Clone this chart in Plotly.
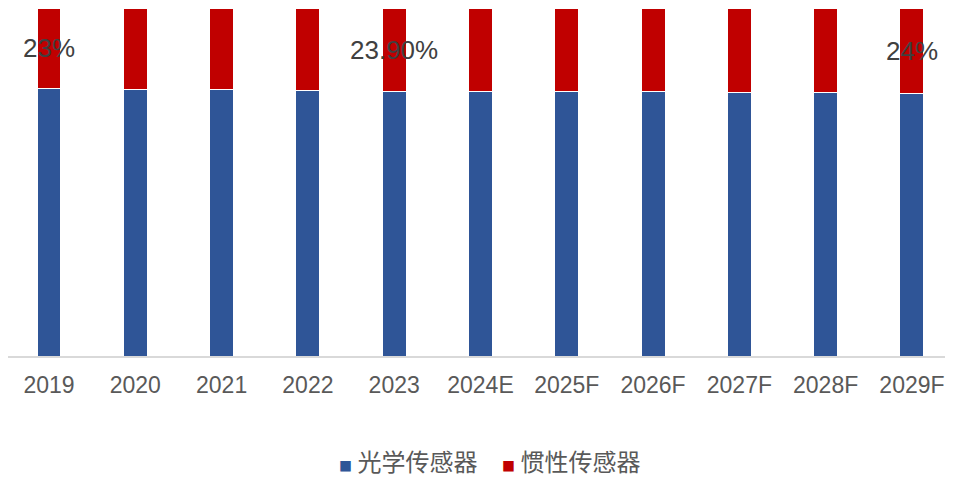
import plotly.graph_objects as go

years = ["2019", "2020", "2021", "2022", "2023", "2024E", "2025F", "2026F", "2027F", "2028F", "2029F"]
inertial = [23.0, 23.5, 23.3, 23.6, 23.9, 23.9, 24.1, 24.1, 24.2, 24.4, 24.6]
optical = [round(100 - v, 1) for v in inertial]
labels = {"2019": "23%", "2023": "23.90%", "2029F": "24%"}

BLUE = "#2F5597"
RED = "#C00000"

fig = go.Figure()
fig.add_trace(go.Bar(
    x=years, y=optical, name="光学传感器",
    marker=dict(color=BLUE, line=dict(color="white", width=1)),
))
fig.add_trace(go.Bar(
    x=years, y=inertial, name="惯性传感器",
    marker=dict(color=RED, line=dict(color="white", width=1)),
))

# data labels in the middle of the red segment
for yr, txt in labels.items():
    i = years.index(yr)
    fig.add_annotation(
        x=i, y=optical[i] + inertial[i] / 2, text=txt, showarrow=False,
        font=dict(family="Liberation Sans, Arial", size=26, color="#404040"),
    )

# legend drawn as text so it can sit close to the bottom edge without clipping
for tr, lx in zip(fig.data, [0.351, 0.525]):
    fig.add_annotation(
        xref="paper", yref="paper", x=lx, y=-0.30, xanchor="left", yanchor="middle",
        text=f"<span style='font-size:13px;color:{tr.marker.color}'>■</span> {tr.name}",
        showarrow=False,
        font=dict(family="Noto Sans CJK SC", size=24, color="#595959"),
    )

# page body keeps an 8px margin, so size the figure to fit inside the window
fig.update_layout(
    width=937, height=466,
    barmode="stack", bargap=0.722,
    plot_bgcolor="white", paper_bgcolor="white",
    margin=dict(l=0, r=0, t=0, b=118, autoexpand=False),
    font=dict(family="Liberation Sans, Arial", color="#595959"),
    showlegend=False,
)
fig.update_xaxes(
    type="category", automargin=False,
    range=[-0.475, 10.383], showline=True, linecolor="#D9D9D9", linewidth=2,
    tickfont=dict(size=23, color="#595959"), ticklabelstandoff=7, showgrid=False,
)
fig.update_yaxes(range=[0, 100], visible=False, showgrid=False, automargin=False)

fig.write_html("out.html")
